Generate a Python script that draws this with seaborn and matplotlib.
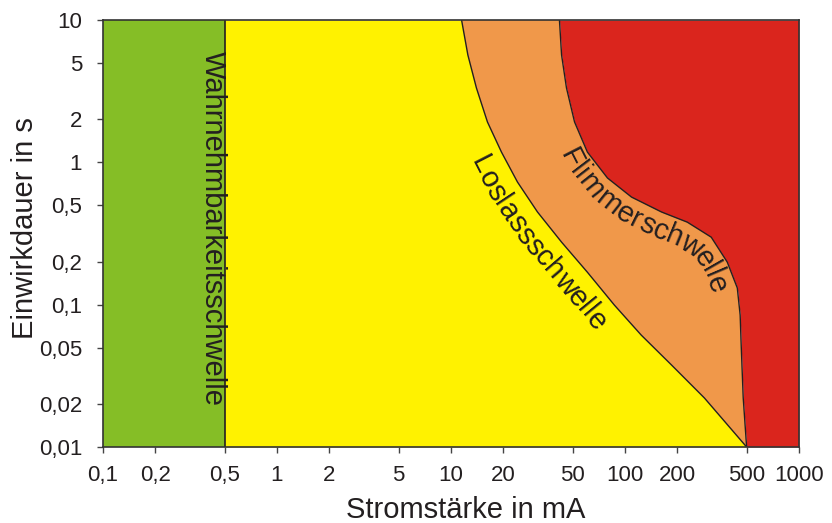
import numpy as np
import matplotlib
matplotlib.use("Agg")
import matplotlib.pyplot as plt
import seaborn as sns
import pandas as pd
from matplotlib.font_manager import FontProperties

# ---------------- data ----------------
x_ticks = [0.1, 0.2, 0.5, 1, 2, 5, 10, 20, 50, 100, 200, 500, 1000]
x_tick_labels = ["0,1", "0,2", "0,5", "1", "2", "5", "10", "20", "50", "100", "200", "500", "1000"]
y_ticks = [0.01, 0.02, 0.05, 0.1, 0.2, 0.5, 1, 2, 5, 10]
y_tick_labels = ["0,01", "0,02", "0,05", "0,1", "0,2", "0,5", "1", "2", "5", "10"]

perception_current = 0.5  # mA, Wahrnehmbarkeitsschwelle

let_go_current = [11.5, 12.5, 14.0, 16.2, 19.5, 24.1, 31.4, 43.2, 60.8, 86.9, 124, 185, 286, 500]
let_go_time = [10, 5.68, 3.33, 1.92, 1.18, 0.727, 0.448, 0.275, 0.169, 0.0993, 0.0611, 0.0377, 0.0221, 0.01]

fibr_current = [42.0, 43.2, 46.1, 51.3, 60.8, 79.3, 109, 162, 228, 313, 387, 442, 459, 466, 478, 500]
fibr_time = [10, 5.68, 3.33, 1.92, 1.18, 0.776, 0.570, 0.448, 0.380, 0.298, 0.199, 0.131, 0.0845, 0.0495, 0.0221, 0.01]

x_min, x_max = 0.1, 1000
y_min, y_max = 0.01, 10

GREEN = "#85BE26"
YELLOW = "#FFF200"
ORANGE = "#F0984A"
RED = "#DA251D"
LINE = "#231F20"
TXT = "#231F20"

# ---------------- figure ----------------
sns.set_theme(style="ticks")
plt.rcParams["font.family"] = ["Liberation Sans", "DejaVu Sans"]

fig = plt.figure(figsize=(8.32, 5.23), dpi=100)
ax = fig.add_axes([103 / 832, 1 - 447 / 523, 696 / 832, 427 / 523])
ax.set_xscale("log")
ax.set_yscale("log")
ax.set_xlim(x_min, x_max)
ax.set_ylim(y_min, y_max)

# regions
ax.axvspan(x_min, perception_current, color=GREEN, lw=0, zorder=1)
ax.fill_betweenx(let_go_time, perception_current, let_go_current, color=YELLOW, lw=0, zorder=1)
ax.fill(let_go_current + fibr_current[::-1], let_go_time + fibr_time[::-1], color=ORANGE, lw=0, zorder=1)
ax.fill_betweenx(fibr_time, fibr_current, x_max, color=RED, lw=0, zorder=1)

# boundary lines
df_lg = pd.DataFrame({"I": let_go_current, "t": let_go_time})
df_fb = pd.DataFrame({"I": fibr_current, "t": fibr_time})
sns.lineplot(data=df_lg, x="I", y="t", sort=False, estimator=None, color=LINE, lw=1.0, ax=ax, zorder=3)
sns.lineplot(data=df_fb, x="I", y="t", sort=False, estimator=None, color=LINE, lw=1.0, ax=ax, zorder=3)
ax.axvline(perception_current, color=LINE, lw=1.2, zorder=3)

ax.set_xlim(x_min, x_max)
ax.set_ylim(y_min, y_max)

# ticks
ax.set_xticks(x_ticks)
ax.set_xticklabels(x_tick_labels)
ax.set_yticks(y_ticks)
ax.set_yticklabels(y_tick_labels)
ax.minorticks_off()
ax.tick_params(axis="both", which="major", direction="out", length=4.5, width=1.0,
               color="#444444", labelsize=16, labelcolor=TXT)
ax.tick_params(axis="x", pad=8.5)
ax.tick_params(axis="y", pad=10.5)
for sp in ax.spines.values():
    sp.set_visible(True)
    sp.set_color("#333333")
    sp.set_linewidth(1.2)
    sp.set_zorder(5)

# axis labels
ax.set_xlabel("Stromstärke in mA", fontsize=21, color=TXT, va="center")
ax.xaxis.set_label_coords((466 - 103) / 696, -(510 - 447) / 427)
ax.set_ylabel("Einwirkdauer in s", fontsize=21, color=TXT, va="center")
ax.yaxis.set_label_coords((25 - 103) / 696, (447 - 228) / 427)

# vertical label
ax.text(0.428, 0.345, "Wahrnehmbarkeitsschwelle", rotation=-90, rotation_mode="anchor",
        ha="center", va="center", fontsize=21, color=TXT, zorder=4)


def curved_text(ax, xs, ys, text, start_y, offset_px, fontsize, tracking=1.0):
    fig = ax.figure
    fig.canvas.draw()
    renderer = fig.canvas.get_renderer()
    pts = ax.transData.transform(np.column_stack([xs, ys]))
    seg = np.hypot(*np.diff(pts, axis=0).T)
    s = np.r_[0, np.cumsum(seg)]
    sd = np.linspace(0, s[-1], 4000)

    def at(sv):
        return np.column_stack([np.interp(sv, s, pts[:, 0]), np.interp(sv, s, pts[:, 1])])

    P = at(sd)
    h = 12.0
    T = at(sd + h) - at(sd - h)
    T /= np.hypot(T[:, 0], T[:, 1])[:, None]
    up = np.column_stack([-T[:, 1], T[:, 0]])
    Q = P - offset_px * up
    qs = np.r_[0, np.cumsum(np.hypot(*np.diff(Q, axis=0).T))]

    y_start_px = ax.transData.transform((1.0, start_y))[1]
    i0 = int(np.argmin(np.abs(P[:, 1] - y_start_px)))
    q0 = qs[i0]

    fp = FontProperties(family=["Liberation Sans", "DejaVu Sans"], size=fontsize)
    widths = [0.0]
    for k in range(1, len(text) + 1):
        widths.append(renderer.get_text_width_height_descent(text[:k], fp, ismath=False)[0])
    inv = ax.transData.inverted()
    hh = 6.0
    for k, ch in enumerate(text):
        c = q0 + tracking * 0.5 * (widths[k] + widths[k + 1])
        px = np.interp(c, qs, Q[:, 0])
        py = np.interp(c, qs, Q[:, 1])
        ax_ = np.interp(c - hh, qs, Q[:, 0]); ay_ = np.interp(c - hh, qs, Q[:, 1])
        bx_ = np.interp(c + hh, qs, Q[:, 0]); by_ = np.interp(c + hh, qs, Q[:, 1])
        ang = np.degrees(np.arctan2(by_ - ay_, bx_ - ax_))
        dx, dy = inv.transform((px, py))
        ax.text(dx, dy, ch, fontproperties=fp, color=TXT, rotation=ang,
                rotation_mode="anchor", ha="center", va="center", zorder=4)


curved_text(ax, let_go_current, let_go_time, "Loslassschwelle", 1.28, 24, 21)
curved_text(ax, fibr_current, fibr_time, "Flimmerschwelle", 1.37, 18, 21)

fig.savefig("out.png", dpi=100)
